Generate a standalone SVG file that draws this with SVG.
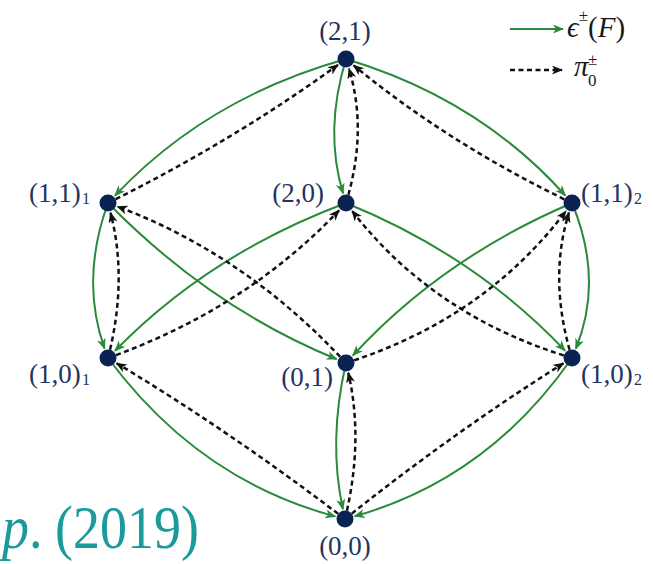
<svg xmlns="http://www.w3.org/2000/svg" width="653" height="564" viewBox="0 0 653 564">
<defs>
<marker id="ag" markerUnits="userSpaceOnUse" markerWidth="12" markerHeight="10" refX="10" refY="4.5" orient="auto">
<path d="M0,0 L11,4.5 L0,9 L3,4.5 Z" fill="#2a8a3a"/>
</marker>
<marker id="ak" markerUnits="userSpaceOnUse" markerWidth="12" markerHeight="10" refX="10" refY="4.5" orient="auto">
<path d="M0,0 L11,4.5 L0,9 L3,4.5 Z" fill="#111"/>
</marker>
</defs>
<style>
.g{fill:none;stroke:#2a8a3a;stroke-width:2;marker-end:url(#ag)}
.d{fill:none;stroke:#111;stroke-width:2.5;stroke-dasharray:5 3.5;marker-end:url(#ak)}
.n{fill:#0b2352}
.lb{font-family:'Liberation Serif','DejaVu Serif',serif;font-size:27px;fill:#1e3461}
.sb{font-family:'Liberation Serif','DejaVu Serif',serif;font-size:16px;fill:#1e3461}
.lg{font-family:'Liberation Serif','DejaVu Serif',serif;fill:#1a1a1a}
.yr{font-family:'Liberation Serif','DejaVu Serif',serif;font-size:54px;fill:#1a9a9a}
</style>
<rect width="653" height="564" fill="#fff"/>
<g id="connectors">
<path class="g" d="M346,59 Q207,98 114.9,195.7"/>
<path class="g" d="M346,59 Q479,99 565.3,195.5"/>
<path class="g" d="M346,59 Q324,131 343.1,193.4"/>
<path class="g" d="M108,203 Q80,280 104.6,348.6"/>
<path class="g" d="M572,203 Q604,280 575.8,348.7"/>
<path class="g" d="M108,203 Q211,308 336.7,359.2"/>
<path class="g" d="M346,203 Q209.5,254 115,350.8"/>
<path class="g" d="M346,203 Q476,256 565.1,350.7"/>
<path class="g" d="M572,203 Q442,258.5 352.8,355.6"/>
<path class="g" d="M346,363 Q328,441 342.9,509.2"/>
<path class="g" d="M108,358 Q198.4,479.9 335.3,516.4"/>
<path class="g" d="M572,358 Q487.4,479.3 354.6,516.3"/>
<path class="d" d="M108,203 Q233,141 337.9,64.9"/>
<path class="d" d="M572,203 Q450,144.5 353.7,65.4"/>
<path class="d" d="M346,203 Q368,131 348.9,68.6"/>
<path class="d" d="M108,358 Q128,280 110.5,212.7"/>
<path class="d" d="M572,358 Q548,280 569,212.5"/>
<path class="d" d="M346,363 Q245.9,254.7 117.4,206.5"/>
<path class="d" d="M108,358 Q245.6,309 339.1,210.3"/>
<path class="d" d="M572,358 Q434,316.7 352.1,210.9"/>
<path class="d" d="M346,363 Q484.5,318.9 566,211"/>
<path class="d" d="M345,519 Q364,441 348.3,372.8"/>
<path class="d" d="M345,519 Q231,432 116.6,363.2"/>
<path class="d" d="M345,519 Q453.9,432 563.5,363.3"/>
</g>
<g id="n21"><circle class="n" cx="346" cy="59" r="8.5"/><text class="lb" x="345" y="40" text-anchor="middle">(2,1)</text></g>
<g id="n11a"><circle class="n" cx="108" cy="203" r="8.5"/><text class="lb" x="29" y="202">(1,1)</text><text class="sb" x="82" y="204">1</text></g>
<g id="n20"><circle class="n" cx="346" cy="203" r="8.5"/><text class="lb" x="324" y="202" text-anchor="end">(2,0)</text></g>
<g id="n11b"><circle class="n" cx="572" cy="203" r="8.5"/><text class="lb" x="581" y="202">(1,1)</text><text class="sb" x="634" y="204">2</text></g>
<g id="n10a"><circle class="n" cx="108" cy="358" r="8.5"/><text class="lb" x="29" y="383">(1,0)</text><text class="sb" x="82" y="385">1</text></g>
<g id="n01"><circle class="n" cx="346" cy="363" r="8.5"/><text class="lb" x="333" y="386" text-anchor="end">(0,1)</text></g>
<g id="n10b"><circle class="n" cx="572" cy="358" r="8.5"/><text class="lb" x="581" y="383">(1,0)</text><text class="sb" x="634" y="385">2</text></g>
<g id="n00"><circle class="n" cx="345" cy="519" r="8.5"/><text class="lb" x="345" y="555" text-anchor="middle">(0,0)</text></g>
<g id="legend">
<line x1="510" y1="29" x2="563" y2="29" class="g"/>
<text class="lg" x="567" y="37" font-size="29"><tspan font-style="italic">ϵ</tspan><tspan font-size="17" dy="-16">±</tspan><tspan dy="16">(</tspan><tspan font-style="italic">F</tspan>)</text>
<line x1="510" y1="70" x2="562" y2="70" class="d"/>
<text class="lg" x="574" y="76" font-size="29" font-style="italic">π</text>
<text class="lg" x="588" y="65" font-size="17">±</text>
<text class="lg" x="588" y="86" font-size="17">0</text>
</g>
<text class="yr" transform="translate(0,548) scale(1,1.12)"><tspan x="2" font-style="italic">p</tspan><tspan x="29">.</tspan><tspan x="55">(2019)</tspan></text>
</svg>
